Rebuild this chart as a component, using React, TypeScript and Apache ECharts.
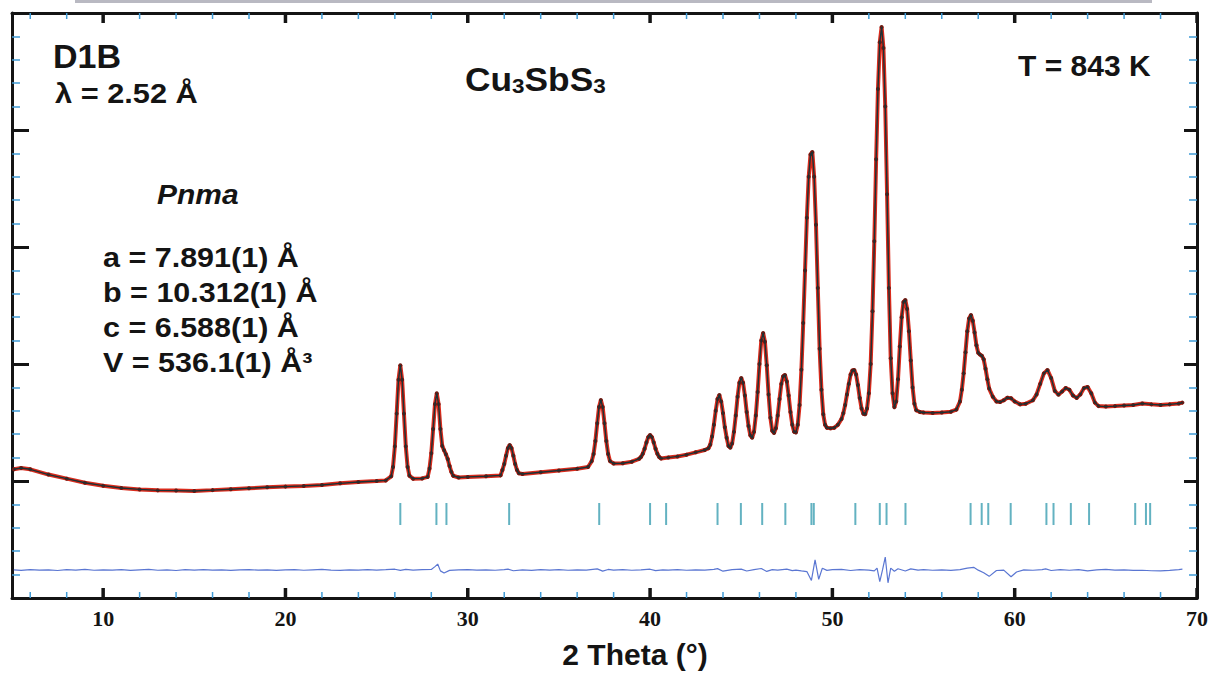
import React, { useEffect, useRef } from "react";
import * as echarts from "echarts";

// Observed / calculated neutron powder profile (2θ in degrees, intensity in arb. units)
const twoTheta = [
  5.1, 5.5, 6.0, 7.0, 8.0, 9.0, 10.0, 11.0, 12.0, 13.0, 14.0, 15.0, 16.0, 17.0, 18.0, 19.0, 20.0,
  21.0, 22.0, 23.0, 24.0, 25.0, 25.5, 25.8, 25.9, 26.0, 26.1, 26.2, 26.3, 26.4, 26.5, 26.6, 26.7,
  26.8, 27.0, 27.5, 27.8, 27.9, 28.0, 28.1, 28.2, 28.3, 28.4, 28.5, 28.6, 28.7, 28.8, 28.9, 29.0,
  29.1, 29.2, 29.5, 30.0, 31.0, 31.8, 31.9, 32.0, 32.1, 32.2, 32.3, 32.4, 32.5, 32.6, 32.7, 32.8,
  33.0, 34.0, 35.0, 36.0, 36.6, 36.8, 36.9, 37.0, 37.1, 37.2, 37.3, 37.4, 37.5, 37.6, 37.7, 37.8,
  38.0, 38.5, 39.0, 39.4, 39.5, 39.6, 39.7, 39.8, 39.9, 40.0, 40.1, 40.2, 40.3, 40.4, 40.5, 40.6,
  41.0, 41.5, 42.0, 42.5, 43.0, 43.2, 43.3, 43.4, 43.5, 43.6, 43.7, 43.8, 43.9, 44.0, 44.1, 44.2,
  44.3, 44.4, 44.5, 44.6, 44.7, 44.8, 44.9, 45.0, 45.1, 45.2, 45.3, 45.4, 45.5, 45.6, 45.7, 45.8,
  45.9, 46.0, 46.1, 46.2, 46.3, 46.4, 46.5, 46.6, 46.7, 46.8, 46.9, 47.0, 47.1, 47.2, 47.3, 47.4,
  47.5, 47.6, 47.7, 47.8, 47.9, 48.0, 48.1, 48.2, 48.3, 48.4, 48.5, 48.6, 48.7, 48.8, 48.9, 49.0,
  49.1, 49.2, 49.3, 49.4, 49.5, 49.6, 49.7, 49.9, 50.1, 50.3, 50.5, 50.6, 50.7, 50.8, 50.9, 51.0,
  51.1, 51.2, 51.3, 51.4, 51.5, 51.6, 51.7, 51.8, 51.9, 52.0, 52.1, 52.2, 52.3, 52.4, 52.5, 52.6,
  52.7, 52.8, 52.9, 53.0, 53.1, 53.2, 53.3, 53.4, 53.5, 53.6, 53.7, 53.8, 53.9, 54.0, 54.1, 54.2,
  54.3, 54.4, 54.5, 54.6, 54.8, 55.0, 55.5, 56.0, 56.5, 56.8, 57.0, 57.1, 57.2, 57.3, 57.4, 57.5,
  57.6, 57.7, 57.8, 57.9, 58.0, 58.1, 58.2, 58.3, 58.4, 58.5, 58.6, 58.8, 59.0, 59.2, 59.4, 59.6,
  59.8, 60.0, 60.3, 60.6, 61.0, 61.2, 61.4, 61.6, 61.8, 62.0, 62.2, 62.4, 62.6, 62.8, 63.0, 63.2,
  63.4, 63.6, 63.8, 64.0, 64.2, 64.4, 64.6, 65.0, 65.5, 66.0, 66.5, 67.0, 67.5, 68.0, 68.5, 69.0,
  69.2,
];
const intensity = [
  1100, 1111, 1100, 1055, 1020, 985, 960, 940, 928, 920, 918, 915, 922, 930, 938, 946, 952,
  958, 966, 980, 992, 1000, 1005, 1040, 1120, 1296, 1576, 1865, 1990, 1865, 1576, 1296, 1120,
  1045, 1020, 1022, 1035, 1106, 1237, 1444, 1657, 1750, 1657, 1444, 1300, 1263, 1229, 1188, 1129,
  1078, 1045, 1030, 1035, 1040, 1048, 1094, 1145, 1216, 1281, 1308, 1281, 1216, 1145, 1094, 1066,
  1060, 1075, 1090, 1105, 1120, 1170, 1230, 1341, 1493, 1633, 1692, 1633, 1493, 1341, 1230, 1170,
  1150, 1152, 1165, 1190, 1206, 1233, 1276, 1329, 1375, 1393, 1375, 1329, 1276, 1233, 1206, 1193,
  1200, 1210, 1225, 1245, 1265, 1280, 1310, 1380, 1480, 1600, 1700, 1735, 1680, 1580, 1460, 1370,
  1300, 1285, 1320, 1420, 1560, 1720, 1840, 1880, 1840, 1730, 1590, 1470, 1390, 1370, 1420, 1560,
  1760, 2000, 2200, 2265, 2190, 1990, 1740, 1540, 1430, 1410, 1450, 1560, 1700, 1830, 1895, 1906,
  1850, 1730, 1590, 1480, 1420, 1415, 1480, 1650, 1950, 2350, 2800, 3250, 3600, 3790, 3812, 3600,
  3190, 2650, 2130, 1780, 1570, 1480, 1455, 1450, 1455, 1480, 1530, 1580, 1650, 1740, 1830, 1910,
  1945, 1949, 1910, 1820, 1710, 1620, 1575, 1570, 1620, 1750, 2000, 2450, 3050, 3750, 4350, 4750,
  4880, 4700, 4200, 3450, 2650, 2050, 1750, 1630, 1680, 1870, 2150, 2400, 2530, 2547, 2470, 2280,
  2030, 1800, 1660, 1605, 1590, 1585, 1582, 1585, 1592, 1610, 1680, 1780, 1920, 2100, 2280, 2390,
  2419, 2370, 2270, 2160, 2095, 2080, 2070, 2040, 1960, 1870, 1790, 1720, 1680, 1675, 1690, 1712,
  1708, 1680, 1655, 1660, 1690, 1740, 1830, 1920, 1949, 1880, 1770, 1738, 1765, 1795, 1780, 1730,
  1710, 1740, 1795, 1803, 1750, 1670, 1640, 1636, 1640, 1645, 1650, 1662, 1655, 1650, 1655, 1662,
  1670,
];

// Difference curve (obs - calc, shifted below the pattern)
const diffTheta = [
  5.1, 5.5, 6.0, 6.5, 7.0, 7.5, 8.0, 8.5, 9.0, 9.5, 10.0, 10.5, 11.0, 11.5, 12.0, 12.5, 13.0, 13.5,
  14.0, 14.5, 15.0, 15.5, 16.0, 16.5, 17.0, 17.5, 18.0, 18.5, 19.0, 19.5, 20.0, 20.5, 21.0, 21.5,
  22.0, 22.5, 23.0, 23.5, 24.0, 24.5, 25.0, 25.5, 26.0, 26.3, 26.6, 27.0, 27.5, 28.0, 28.2, 28.35,
  28.5, 28.7, 29.0, 29.5, 30.0, 30.5, 31.0, 31.5, 32.0, 32.2, 32.5, 33.0, 33.5, 34.0, 34.5, 35.0,
  35.5, 36.0, 36.5, 37.1, 37.4, 37.7, 38.0, 38.5, 39.0, 39.5, 40.0, 40.3, 40.7, 41.0, 41.5, 42.0,
  42.5, 43.0, 43.5, 43.7, 44.0, 44.5, 45.0, 45.3, 45.7, 46.1, 46.4, 46.7, 47.0, 47.5, 47.8, 48.0,
  48.3, 48.6, 48.85, 49.05, 49.25, 49.45, 49.7, 50.0, 50.5, 51.0, 51.5, 52.0, 52.3, 52.45, 52.6,
  52.75, 52.9, 53.05, 53.2, 53.4, 53.6, 54.0, 54.3, 54.7, 55.0, 55.5, 56.0, 56.5, 57.0, 57.4, 57.75,
  58.0, 58.3, 58.6, 59.0, 59.4, 59.8, 60.1, 60.5, 61.0, 61.5, 61.7, 62.0, 62.5, 63.0, 63.5, 64.0,
  64.5, 65.0, 65.5, 66.0, 66.5, 67.0, 67.5, 68.0, 68.5, 69.0, 69.2,
];
const diffValue = [
  240, 236, 243, 238, 241, 235, 242, 239, 244, 237, 241, 238, 242, 236, 240, 244, 237, 241,
  235, 242, 239, 243, 238, 241, 236, 240, 243, 238, 241, 236, 240, 242, 237, 241,
  244, 239, 236, 241, 238, 243, 239, 242, 246, 236, 245, 239, 242, 244, 268, 290,
  232, 214, 236, 240, 243, 239, 241, 237, 242, 247, 233, 240, 236, 242, 239, 243,
  237, 241, 238, 249, 230, 244, 239, 242, 237, 241, 246, 234, 241, 238, 243, 237,
  241, 239, 244, 251, 229, 242, 247, 231, 242, 252, 227, 242, 238, 247, 234, 239,
  232, 226, 150, 325, 160, 255, 236, 242, 245, 235, 243, 238, 232, 255, 140,
  240, 350, 130, 255, 228, 250, 231, 249, 238, 242, 237, 241, 236, 243, 256, 262,
  238, 216, 185, 235, 238, 182, 222, 240, 237, 243, 249, 235, 243, 237, 242, 232,
  240, 244, 238, 240, 236, 237, 233, 232, 236, 243, 246,
];

// Bragg reflection positions (2θ)
const braggPositions = [
  26.3, 28.28, 28.83, 32.27, 37.21, 40.0, 40.88, 43.7, 44.98, 46.15, 47.42, 48.85, 48.98, 51.26,
  52.6, 52.97, 54.01, 57.58, 58.19, 58.55, 59.78, 61.74, 62.13, 63.08, 64.08, 66.61, 67.2, 67.43,
];
const braggRowLevel = 718;

// Axis ticks
const xMajorTicks = [10, 20, 30, 40, 50, 60, 70];
const xMinorTicks = [
  6, 8, 12, 14, 16, 18, 22, 24, 26, 28, 32, 34, 36, 38, 42, 44, 46, 48, 52, 54, 56, 58, 62, 64, 66, 68,
];
const xMin = 5;
const xMax = 70;
const xSplitNumber = 6;
const yMin = 0;
const yMax = 5000;
const yInterval = 1000;

const latticeLines = ["a = 7.891(1) Å", "b = 10.312(1) Å", "c = 6.588(1) Å", "V = 536.1(1) Å³"];

const INK = "#141414";
const MINOR = "#3f9bd6";
const SANS = "'Liberation Sans', Arial, sans-serif";

export default function App() {
  const ref = useRef<HTMLDivElement>(null);

  useEffect(() => {
    if (!ref.current) return;
    const chart = echarts.init(ref.current, undefined, { renderer: "svg" });
    const obsData = twoTheta.map((t, i) => [t, intensity[i]]);
    const diffData = diffTheta.map((t, i) => [t, diffValue[i]]);
    const braggData = braggPositions.map((p) => [p, braggRowLevel]);
    const xTickData = [
      ...xMajorTicks.map((v) => [v, 1]),
      ...xMinorTicks.map((v) => [v, 0]),
    ];

    const xAx = (position: string, withLabels: boolean) => ({
      type: "value",
      position,
      min: xMin,
      max: xMax,
      splitNumber: xSplitNumber,
      axisLine: { show: true, onZero: false, lineStyle: { color: INK, width: 3 } },
      axisTick: { show: false },
      axisLabel: withLabels
        ? {
            show: true,
            showMinLabel: false,
            fontFamily: "'Liberation Serif', 'Times New Roman', serif",
            fontWeight: "bold",
            fontSize: 22,
            color: INK,
            margin: 9,
          }
        : { show: false },
      splitLine: { show: false },
    });
    const yAx = (position: string, len: number) => ({
      type: "value",
      position,
      min: yMin,
      max: yMax,
      interval: yInterval,
      axisLine: { show: true, lineStyle: { color: INK, width: 3 } },
      axisTick: { show: true, inside: true, length: len, lineStyle: { color: INK, width: 3 } },
      minorTick: { show: true, splitNumber: 5, length: 8, lineStyle: { color: MINOR, width: 1.5 } },
      axisLabel: { show: false },
      splitLine: { show: false },
    });

    const textEl = (text: string, x: number, y: number, size: number, sx: number, extra: any = {}) => ({
      type: "text",
      x,
      y,
      scaleX: sx,
      style: {
        text,
        fontFamily: SANS,
        fontWeight: "bold",
        fontSize: size,
        fill: INK,
        textVerticalAlign: "top",
        verticalAlign: "top",
        ...extra,
      },
      z: 10,
    });

    chart.setOption({
      animation: false,
      backgroundColor: "#ffffff",
      grid: { left: 12, top: 13, width: 1185, height: 585, containLabel: false },
      xAxis: [
        {
          ...xAx("bottom", true),
          name: "2 Theta (°)",
          nameLocation: "middle",
          nameGap: 41,
          nameTextStyle: {
            fontFamily: SANS,
            fontWeight: "bold",
            fontSize: 30,
            color: INK,
            padding: [0, 0, 0, 61],
          },
        },
        xAx("top", false),
      ],
      yAxis: [yAx("left", 17), yAx("right", 13)],
      series: [
        {
          name: "Observed",
          type: "line",
          data: obsData,
          lineStyle: { color: "#d92b1c", width: 4 },
          symbol: "circle",
          symbolSize: 4,
          showSymbol: true,
          itemStyle: { color: "#6b1a12" },
          z: 2,
        },
        {
          name: "Calculated",
          type: "line",
          data: obsData,
          lineStyle: { color: "#1a3236", width: 1.4 },
          symbol: "none",
          z: 3,
        },
        {
          name: "Difference",
          type: "line",
          data: diffData,
          lineStyle: { color: "#5a76d2", width: 1.2 },
          symbol: "none",
          z: 3,
        },
        {
          name: "Bragg positions",
          type: "scatter",
          data: braggData,
          symbol: "rect",
          symbolSize: [2, 22],
          itemStyle: { color: "#3c9fb2" },
          z: 3,
        },
        {
          name: "2θ ticks",
          type: "custom",
          silent: true,
          clip: false,
          z: 6,
          data: xTickData,
          renderItem: (_params: any, api: any) => {
            const v = api.value(0);
            const major = api.value(1) === 1;
            const b = api.coord([v, yMin]);
            const t = api.coord([v, yMax]);
            const len = major ? 10 : 6;
            const style = major
              ? { stroke: INK, lineWidth: 3.5 }
              : { stroke: MINOR, lineWidth: 1.5 };
            return {
              type: "group",
              children: [
                { type: "line", shape: { x1: b[0], y1: b[1], x2: b[0], y2: b[1] - len }, style },
                { type: "line", shape: { x1: t[0], y1: t[1], x2: t[0], y2: t[1] + len }, style },
              ],
            };
          },
        },
      ],
      graphic: [
        { type: "rect", left: 75, top: 0, shape: { width: 1077, height: 3 }, style: { fill: "#b9b9c2" } },
        textEl("D1B", 53, 39, 34, 1.0),
        textEl("λ = 2.52 Å", 55, 80, 27, 1.14),
        {
          type: "text",
          x: 465,
          y: 63,
          scaleX: 1.07,
          z: 10,
          style: {
            text: "{m|Cu}{s|3}{m|SbS}{s|3}",
            fill: INK,
            textVerticalAlign: "top",
            verticalAlign: "top",
            rich: {
              m: { fontFamily: SANS, fontWeight: "bold", fontSize: 33, fill: INK },
              s: { fontFamily: SANS, fontWeight: "bold", fontSize: 21, fill: INK, verticalAlign: "bottom" },
            },
          },
        },
        textEl("T = 843 K", 1018, 50, 30, 1.0),
        textEl("Pnma", 157, 180, 28, 1.07, { fontStyle: "italic" }),
        ...latticeLines.map((line, i) => textEl(line, 103, 244 + i * 35, 27, 1.13)),
      ],
    });

    return () => chart.dispose();
  }, []);

  return (
    <div
      ref={ref}
      style={{ position: "fixed", left: 0, top: 0, width: 1211, height: 675, background: "#fff" }}
    />
  );
}
